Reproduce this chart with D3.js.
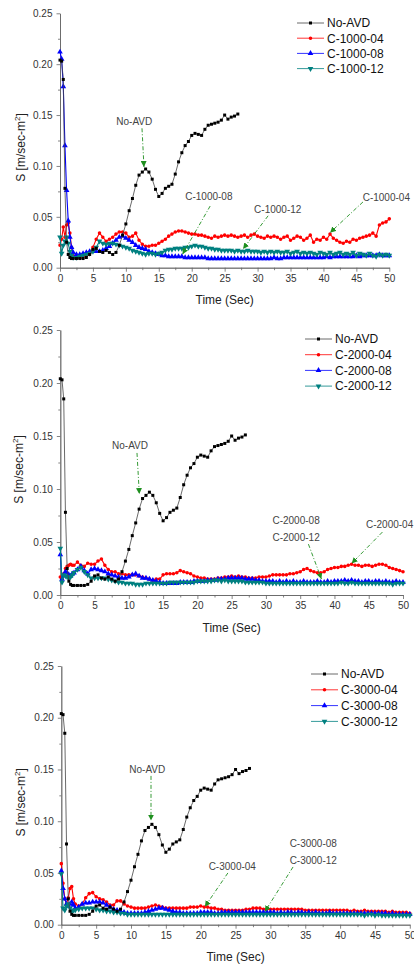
<!DOCTYPE html>
<html>
<head>
<meta charset="utf-8">
<script src="https://cdn.jsdelivr.net/npm/d3@7"></script>
<style>
body { margin: 0; background: #fff; }
svg { display: block; font-family: "Liberation Sans", Arial, sans-serif; }
</style>
</head>
<body>
<svg id="chart" width="414" height="966"></svg>
<script>
// time grid (s): finer at the start, then every 0.5 s
var times = [0,0.25,0.5,0.75,1,1.25,1.5,1.75,2,
  2.5,3,3.5,4,4.5,5,5.5,6,6.5,7,
  7.5,8,8.5,9,9.5,10,10.5,11,11.5,12,
  12.5,13,13.5,14,14.5,15,15.5,16,16.5,17,
  17.5,18,18.5,19,19.5,20,20.5,21,21.5,22,
  22.5,23,23.5,24,24.5,25,25.5,26,26.5,27,
  27.5,28,28.5,29,29.5,30,30.5,31,31.5,32,
  32.5,33,33.5,34,34.5,35,35.5,36,36.5,37,
  37.5,38,38.5,39,39.5,40,40.5,41,41.5,42,
  42.5,43,43.5,44,44.5,45,45.5,46,46.5,47,
  47.5,48,48.5,49,49.5,50];

// No-AVD (same in all three panels, ends at 27 s)
var noAvd = [0.204,0.203,0.185,0.078,0.025,0.013,0.010,0.009,0.009,
  0.009,0.009,0.009,0.010,0.013,0.018,0.019,0.016,0.015,0.017,
  0.015,0.013,0.015,0.022,0.032,0.043,0.056,0.068,0.081,0.091,
  0.094,0.097,0.094,0.087,0.077,0.070,0.073,0.078,0.080,0.082,
  0.092,0.104,0.113,0.120,0.124,0.130,0.132,0.131,0.130,0.136,
  0.140,0.141,0.142,0.143,0.145,0.150,0.146,0.148,0.149,0.151];

var c1000_04 = [0.022,0.028,0.040,0.030,0.042,0.044,0.034,0.020,0.012,
  0.010,0.010,0.011,0.012,0.014,0.020,0.028,0.034,0.030,0.026,
  0.028,0.030,0.033,0.035,0.035,0.034,0.030,0.031,0.034,0.027,
  0.023,0.021,0.021,0.022,0.022,0.024,0.026,0.028,0.031,0.033,
  0.035,0.036,0.036,0.035,0.034,0.033,0.033,0.032,0.032,0.031,
  0.030,0.029,0.031,0.030,0.031,0.032,0.031,0.032,0.031,0.030,
  0.031,0.032,0.030,0.032,0.033,0.031,0.030,0.029,0.031,0.030,
  0.031,0.030,0.028,0.030,0.031,0.027,0.029,0.031,0.030,0.027,
  0.029,0.032,0.025,0.028,0.027,0.030,0.028,0.033,0.029,0.027,
  0.025,0.024,0.026,0.025,0.028,0.027,0.029,0.030,0.031,0.032,
  0.034,0.031,0.042,0.044,0.045,0.048];
var c1000_08 = [0.212,0.205,0.178,0.120,0.076,0.046,0.030,0.020,0.015,
  0.013,0.013,0.014,0.015,0.016,0.016,0.016,0.016,0.017,0.019,
  0.021,0.024,0.027,0.030,0.031,0.029,0.027,0.025,0.022,0.020,
  0.019,0.018,0.016,0.015,0.014,0.013,0.012,0.012,0.011,0.011,
  0.011,0.011,0.011,0.010,0.010,0.010,0.010,0.010,0.010,0.010,
  0.009,0.009,0.009,0.009,0.009,0.009,0.009,0.009,0.009,0.009,
  0.009,0.009,0.009,0.009,0.009,0.009,0.009,0.009,0.009,0.009,
  0.010,0.009,0.009,0.010,0.010,0.010,0.010,0.010,0.010,0.010,
  0.010,0.010,0.010,0.010,0.010,0.010,0.011,0.010,0.011,0.011,
  0.011,0.011,0.011,0.011,0.011,0.012,0.011,0.012,0.012,0.012,
  0.012,0.012,0.013,0.012,0.012,0.012];
var c1000_12 = [0.030,0.014,0.022,0.026,0.030,0.024,0.016,0.012,0.010,
  0.010,0.011,0.012,0.013,0.014,0.016,0.020,0.026,0.024,0.023,
  0.024,0.024,0.023,0.022,0.021,0.020,0.019,0.017,0.016,0.015,
  0.014,0.013,0.014,0.014,0.013,0.014,0.015,0.017,0.018,0.018,
  0.019,0.019,0.019,0.020,0.020,0.021,0.022,0.021,0.021,0.020,
  0.019,0.019,0.018,0.018,0.017,0.017,0.017,0.017,0.016,0.017,
  0.016,0.016,0.017,0.016,0.016,0.016,0.015,0.016,0.015,0.016,
  0.015,0.016,0.015,0.015,0.016,0.014,0.015,0.016,0.014,0.015,
  0.014,0.015,0.014,0.013,0.015,0.014,0.013,0.015,0.013,0.014,
  0.015,0.013,0.014,0.013,0.015,0.012,0.014,0.013,0.012,0.014,
  0.012,0.011,0.013,0.012,0.013,0.012];

var c2000_04 = [0.017,0.015,0.020,0.025,0.027,0.028,0.029,0.028,0.028,
  0.031,0.028,0.027,0.030,0.029,0.029,0.032,0.034,0.028,0.024,
  0.022,0.022,0.020,0.020,0.019,0.019,0.019,0.019,0.018,0.017,
  0.016,0.015,0.014,0.015,0.015,0.019,0.020,0.020,0.020,0.021,
  0.023,0.022,0.021,0.020,0.018,0.017,0.016,0.016,0.015,0.015,
  0.015,0.016,0.016,0.017,0.017,0.018,0.017,0.018,0.017,0.017,
  0.016,0.016,0.016,0.017,0.017,0.017,0.018,0.019,0.019,0.019,
  0.019,0.019,0.020,0.020,0.021,0.022,0.024,0.025,0.023,0.022,
  0.021,0.021,0.022,0.024,0.025,0.026,0.026,0.027,0.027,0.028,
  0.029,0.028,0.028,0.027,0.028,0.028,0.027,0.028,0.029,0.029,
  0.028,0.026,0.025,0.024,0.023,0.022];
var c2000_08 = [0.038,0.015,0.018,0.022,0.021,0.019,0.018,0.020,0.021,
  0.024,0.027,0.023,0.020,0.024,0.025,0.024,0.023,0.022,0.020,
  0.019,0.018,0.017,0.016,0.016,0.017,0.019,0.020,0.018,0.016,
  0.016,0.015,0.014,0.013,0.012,0.011,0.011,0.011,0.011,0.011,
  0.012,0.012,0.012,0.012,0.013,0.013,0.013,0.013,0.014,0.014,
  0.014,0.015,0.015,0.015,0.016,0.016,0.016,0.016,0.016,0.015,
  0.015,0.015,0.014,0.014,0.013,0.013,0.013,0.013,0.012,0.013,
  0.012,0.013,0.012,0.013,0.012,0.012,0.013,0.012,0.012,0.012,
  0.013,0.012,0.012,0.013,0.012,0.013,0.013,0.013,0.014,0.013,
  0.014,0.013,0.013,0.012,0.013,0.013,0.012,0.013,0.013,0.012,
  0.013,0.012,0.012,0.013,0.012,0.012];
var c2000_12 = [0.044,0.012,0.019,0.018,0.017,0.016,0.017,0.019,0.021,
  0.024,0.026,0.022,0.019,0.016,0.016,0.016,0.016,0.016,0.015,
  0.014,0.013,0.012,0.012,0.011,0.011,0.011,0.010,0.010,0.010,
  0.011,0.011,0.011,0.011,0.011,0.011,0.011,0.012,0.012,0.012,
  0.012,0.012,0.012,0.012,0.012,0.013,0.013,0.013,0.013,0.013,
  0.014,0.014,0.013,0.014,0.013,0.013,0.013,0.013,0.013,0.012,
  0.012,0.012,0.012,0.012,0.012,0.011,0.011,0.011,0.011,0.011,
  0.011,0.011,0.011,0.011,0.011,0.011,0.011,0.011,0.011,0.011,
  0.011,0.011,0.011,0.011,0.011,0.011,0.011,0.012,0.011,0.011,
  0.012,0.011,0.011,0.011,0.011,0.011,0.011,0.011,0.011,0.011,
  0.011,0.011,0.010,0.011,0.011,0.011];

var c3000_04 = [0.059,0.040,0.025,0.020,0.026,0.035,0.037,0.025,0.020,
  0.018,0.020,0.026,0.030,0.031,0.027,0.025,0.024,0.022,0.019,
  0.019,0.023,0.023,0.020,0.018,0.017,0.016,0.016,0.016,0.016,
  0.017,0.018,0.019,0.018,0.017,0.016,0.016,0.016,0.016,0.016,
  0.016,0.016,0.017,0.017,0.017,0.018,0.017,0.017,0.016,0.016,
  0.015,0.015,0.014,0.014,0.014,0.014,0.014,0.014,0.015,0.015,
  0.016,0.016,0.016,0.015,0.015,0.015,0.015,0.015,0.015,0.015,
  0.015,0.015,0.015,0.015,0.015,0.014,0.014,0.014,0.014,0.014,
  0.014,0.014,0.014,0.014,0.014,0.014,0.014,0.014,0.013,0.014,
  0.013,0.013,0.014,0.013,0.013,0.013,0.013,0.013,0.013,0.012,
  0.013,0.012,0.012,0.012,0.012,0.011];
var c3000_08 = [0.052,0.035,0.025,0.020,0.018,0.020,0.022,0.019,0.016,
  0.017,0.020,0.021,0.021,0.022,0.022,0.022,0.021,0.019,0.017,
  0.015,0.014,0.013,0.012,0.011,0.011,0.011,0.011,0.011,0.012,
  0.013,0.014,0.015,0.016,0.016,0.015,0.014,0.013,0.012,0.012,
  0.011,0.011,0.011,0.011,0.011,0.012,0.012,0.012,0.012,0.011,
  0.011,0.012,0.012,0.012,0.012,0.012,0.012,0.012,0.012,0.012,
  0.012,0.012,0.012,0.012,0.012,0.012,0.012,0.011,0.012,0.011,
  0.012,0.012,0.011,0.012,0.012,0.011,0.012,0.011,0.012,0.011,
  0.011,0.011,0.012,0.011,0.011,0.011,0.011,0.011,0.011,0.011,
  0.011,0.011,0.011,0.011,0.011,0.011,0.011,0.011,0.011,0.010,
  0.011,0.010,0.010,0.010,0.010,0.010];
var c3000_12 = [0.049,0.016,0.014,0.018,0.020,0.016,0.013,0.014,0.014,
  0.015,0.016,0.016,0.016,0.016,0.015,0.014,0.014,0.013,0.013,
  0.012,0.012,0.011,0.011,0.010,0.010,0.010,0.010,0.010,0.010,
  0.010,0.010,0.010,0.010,0.010,0.010,0.010,0.010,0.010,0.010,
  0.010,0.010,0.010,0.010,0.010,0.010,0.010,0.010,0.010,0.010,
  0.010,0.010,0.010,0.010,0.010,0.010,0.010,0.010,0.010,0.010,
  0.010,0.010,0.010,0.010,0.010,0.010,0.010,0.010,0.010,0.010,
  0.010,0.010,0.010,0.010,0.010,0.010,0.010,0.010,0.010,0.010,
  0.010,0.010,0.010,0.010,0.010,0.010,0.010,0.010,0.010,0.010,
  0.010,0.010,0.009,0.010,0.010,0.009,0.010,0.009,0.009,0.009,
  0.009,0.009,0.009,0.009,0.009,0.009];

var yTicks = [0, 0.05, 0.10, 0.15, 0.20, 0.25];
var xTicks = [0, 5, 10, 15, 20, 25, 30, 35, 40, 45, 50];

// annotations, in data units
var notes1 = [
  {text: "No-AVD", t: 11.28, v: 0.140, anchor: "middle"},
  {text: "C-1000-08", t: 22.6, v: 0.0665, anchor: "middle"},
  {text: "C-1000-12", t: 33.06, v: 0.054, anchor: "middle"},
  {text: "C-1000-04", t: 45.96, v: 0.0655, anchor: "start"}
];
var arrows1 = [[12.45, 0.137, 12.75, 0.099], [22.8, 0.0606, 18.6, 0.0132],
  [31.6, 0.051, 27.8, 0.0184], [46.0, 0.0646, 41.0, 0.0344]];
var notes2 = [
  {text: "No-AVD", t: 10.17, v: 0.1373, anchor: "middle"},
  {text: "C-2000-08", t: 34.4, v: 0.067, anchor: "middle"},
  {text: "C-2000-12", t: 34.4, v: 0.051, anchor: "middle"},
  {text: "C-2000-04", t: 44.6, v: 0.0632, anchor: "start"}
];
var arrows2 = [[11.19, 0.134, 11.53, 0.0953], [36.2, 0.048, 38.1, 0.0151],
  [47.0, 0.0594, 42.5, 0.0297]];
var notes3 = [
  {text: "No-AVD", t: 12.34, v: 0.1462, anchor: "middle"},
  {text: "C-3000-04", t: 24.53, v: 0.0529, anchor: "middle"},
  {text: "C-3000-08", t: 36.15, v: 0.0751, anchor: "middle"},
  {text: "C-3000-12", t: 36.15, v: 0.0586, anchor: "middle"}
];
var arrows3 = [[12.87, 0.1438, 12.87, 0.1006], [23.9, 0.050, 20.6, 0.0174],
  [33.25, 0.0558, 29.2, 0.0126]];

var colors = ["#000000", "#ff0000", "#0000ff", "#008080"];
var symbols = [
  d3.symbol().type(d3.symbolSquare).size(9),
  d3.symbol().type(d3.symbolCircle).size(10),
  d3.symbol().type(d3.symbolTriangle).size(14),
  d3.symbol().type(d3.symbolTriangle).size(14)
];
var rot = [0, 0, 0, 180];
var green = "#1f8f1f";

var panels = [
  {x0: 60, x1: 389.3, y0: 267.7, y1: 13.3, titleX: 21, legend: [297, 23, 15.2],
   names: ["No-AVD", "C-1000-04", "C-1000-08", "C-1000-12"],
   series: [noAvd, c1000_04, c1000_08, c1000_12], notes: notes1, arrows: arrows1},
  {x0: 60.3, x1: 403, y0: 595, y1: 330, titleX: 19, legend: [305, 339, 15.7],
   names: ["No-AVD", "C-2000-04", "C-2000-08", "C-2000-12"],
   series: [noAvd, c2000_04, c2000_08, c2000_12], notes: notes2, arrows: arrows2},
  {x0: 61.3, x1: 409.8, y0: 924.7, y1: 666, titleX: 20.5, legend: [311, 674, 15.8],
   names: ["No-AVD", "C-3000-04", "C-3000-08", "C-3000-12"],
   series: [noAvd, c3000_04, c3000_08, c3000_12], notes: notes3, arrows: arrows3}
];

var svg = d3.select("#chart");

svg.append("defs").append("marker")
  .attr("id", "arrowhead")
  .attr("viewBox", "0 0 10 10")
  .attr("refX", 10).attr("refY", 5)
  .attr("markerWidth", 6).attr("markerHeight", 6)
  .attr("markerUnits", "userSpaceOnUse")
  .attr("orient", "auto")
  .append("path").attr("d", "M0,0L10,5L0,10z").attr("fill", green);

panels.forEach(drawPanel);

function drawPanel(p) {
  var x = d3.scaleLinear().domain([0, 50]).range([p.x0, p.x1]);
  var y = d3.scaleLinear().domain([0, 0.25]).range([p.y0, p.y1]);
  var g = svg.append("g");

  // minor ticks
  var minorX = d3.axisBottom(x).tickValues(d3.range(2.5, 50, 5)).tickSize(2.5).tickFormat("").tickSizeOuter(0);
  var minorY = d3.axisLeft(y).tickValues(d3.range(0.025, 0.25, 0.05)).tickSize(2).tickFormat("").tickSizeOuter(0);
  g.append("g").attr("class", "axis").attr("transform", "translate(0," + p.y0 + ")").call(minorX);
  g.append("g").attr("class", "axis").attr("transform", "translate(" + p.x0 + ",0)").call(minorY);

  var xAxis = d3.axisBottom(x).tickValues(xTicks).tickSize(4).tickSizeOuter(0).tickPadding(3);
  var yAxis = d3.axisLeft(y).tickValues(yTicks).tickSize(3.5).tickSizeOuter(0).tickPadding(4)
    .tickFormat(d3.format(".2f"));
  g.append("g").attr("class", "axis").attr("transform", "translate(0," + p.y0 + ")").call(xAxis);
  g.append("g").attr("class", "axis").attr("transform", "translate(" + p.x0 + ",0)").call(yAxis);

  g.selectAll(".axis path, .axis line").attr("stroke", "#666").attr("stroke-width", 0.8);
  g.selectAll(".axis text").attr("fill", "#333").style("font-size", "10px");

  g.append("text")
    .attr("x", (p.x0 + p.x1) / 2).attr("y", p.y0 + 36.5)
    .attr("text-anchor", "middle").style("font-size", "12px").attr("fill", "#222")
    .text("Time (Sec)");

  var yt = g.append("text")
    .attr("transform", "translate(" + (p.titleX + 4) + "," + ((p.y0 + p.y1) / 2 + 7) + ") rotate(-90)")
    .attr("text-anchor", "middle").style("font-size", "12px").attr("fill", "#222");
  yt.append("tspan").text("S [m/sec-m");
  yt.append("tspan").attr("dy", -5).style("font-size", "8px").text("2");
  yt.append("tspan").attr("dy", 5).text("]");

  // series: coloured first, No-AVD on top
  var order = [1, 2, 3, 0];
  order.forEach(function (k) {
    var vals = p.series[k];
    var pts = vals.map(function (v, i) { return [times[i], v]; });
    var line = d3.line().x(function (d) { return x(d[0]); }).y(function (d) { return y(d[1]); });
    g.append("path").datum(pts)
      .attr("d", line).attr("fill", "none")
      .attr("stroke", k === 0 ? "#444" : colors[k]).attr("stroke-width", k === 0 ? 0.8 : 1.1);
    g.append("g").selectAll("path").data(pts).enter().append("path")
      .attr("d", symbols[k])
      .attr("transform", function (d) {
        return "translate(" + x(d[0]) + "," + y(d[1]) + ")" + (rot[k] ? " rotate(180)" : "");
      })
      .attr("fill", colors[k]);
  });

  // legend
  var lg = g.append("g");
  p.names.forEach(function (name, k) {
    var ly = p.legend[1] + k * p.legend[2];
    lg.append("line").attr("x1", p.legend[0]).attr("x2", p.legend[0] + 27)
      .attr("y1", ly).attr("y2", ly)
      .attr("stroke", k === 0 ? "#444" : colors[k]).attr("stroke-width", 0.8);
    lg.append("path").attr("d", symbols[k])
      .attr("transform", "translate(" + (p.legend[0] + 13.5) + "," + ly + ")" + (rot[k] ? " rotate(180)" : ""))
      .attr("fill", colors[k]);
    lg.append("text").attr("x", p.legend[0] + 30).attr("y", ly + 4.3)
      .style("font-size", "12px").attr("fill", "#111").text(name);
  });

  // annotations
  p.arrows.forEach(function (a) {
    g.append("line")
      .attr("x1", x(a[0])).attr("y1", y(a[1]))
      .attr("x2", x(a[2])).attr("y2", y(a[3]))
      .attr("stroke", green).attr("stroke-width", 0.9)
      .attr("stroke-dasharray", "4,2,1,2")
      .attr("marker-end", "url(#arrowhead)");
  });
  p.notes.forEach(function (n) {
    g.append("text").attr("x", x(n.t)).attr("y", y(n.v))
      .attr("text-anchor", n.anchor).style("font-size", "10px").attr("fill", "#444")
      .text(n.text);
  });
}
</script>
</body>
</html>
